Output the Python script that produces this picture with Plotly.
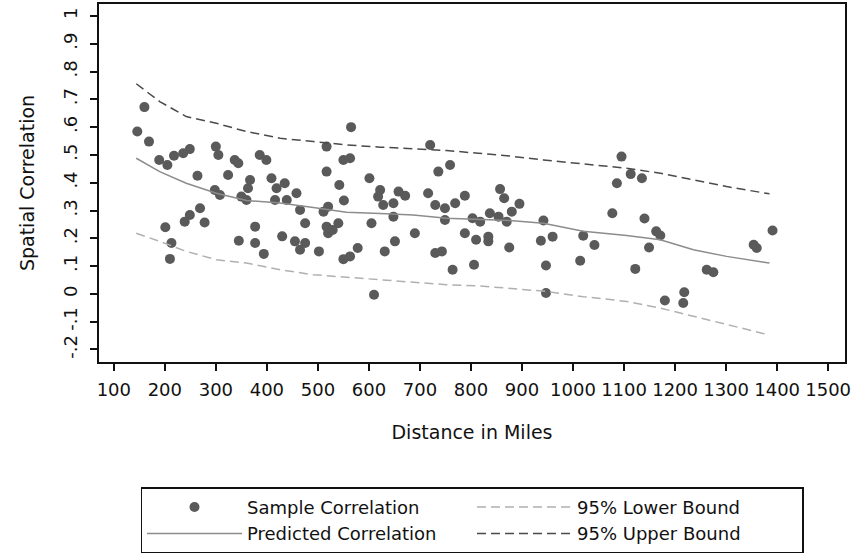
import plotly.graph_objects as go

# Sample correlations (distance in miles, correlation)
sample_dist = [160, 146, 169, 189, 205, 218, 236, 249, 264, 300, 305, 337, 344, 324, 386, 399, 367, 363, 350, 360,
               298, 308, 409, 419, 435, 416, 439, 458, 465, 475, 517, 565, 517, 550, 563, 542, 551, 520, 511, 540,
               517, 520, 529, 601, 622, 618, 628, 648, 658, 671, 648, 605, 690, 651, 631, 578, 563, 550, 502, 465,
               455, 475, 430, 394, 377, 377, 345, 278, 269, 249, 239, 201, 213, 210, 610, 720, 759, 736, 716, 730,
               749, 769, 788, 749, 788, 810, 730, 743, 764, 806, 803, 857, 865, 895, 880, 837, 818, 870, 854, 942,
               834, 834, 875, 937, 960, 947, 1014, 1020, 1042, 947, 1095, 1086, 1113, 1135, 1077, 1140, 1163, 1171,
               1149, 1122, 1180, 1218, 1216, 1262, 1275, 1354, 1360, 1391]
sample_corr = [0.672, 0.584, 0.548, 0.482, 0.464, 0.497, 0.506, 0.521, 0.425, 0.530, 0.500, 0.482, 0.470, 0.428,
               0.500, 0.482, 0.410, 0.380, 0.350, 0.338, 0.374, 0.356, 0.416, 0.380, 0.398, 0.338, 0.338, 0.362,
               0.302, 0.254, 0.530, 0.600, 0.440, 0.482, 0.488, 0.392, 0.336, 0.314, 0.296, 0.254, 0.242, 0.218,
               0.230, 0.416, 0.374, 0.350, 0.320, 0.326, 0.368, 0.353, 0.278, 0.254, 0.218, 0.189, 0.153, 0.165,
               0.135, 0.125, 0.153, 0.159, 0.189, 0.183, 0.207, 0.144, 0.183, 0.242, 0.191, 0.257, 0.308, 0.284,
               0.260, 0.240, 0.183, 0.126, -0.003, 0.536, 0.464, 0.440, 0.362, 0.320, 0.308, 0.326, 0.353, 0.266,
               0.218, 0.195, 0.147, 0.153, 0.087, 0.105, 0.272, 0.377, 0.344, 0.324, 0.296, 0.290, 0.260, 0.260,
               0.278, 0.264, 0.189, 0.206, 0.167, 0.191, 0.206, 0.102, 0.119, 0.209, 0.176, 0.003, 0.494, 0.398,
               0.431, 0.416, 0.290, 0.271, 0.225, 0.210, 0.167, 0.090, -0.024, 0.006, -0.033, 0.087, 0.078, 0.177,
               0.165, 0.228]

# Fitted curves
curve_dist = [144, 190, 242, 301, 360, 426, 491, 556, 622, 687, 752, 814, 876, 942, 1020, 1105, 1171, 1236, 1301, 1385]
predicted = [0.488, 0.440, 0.398, 0.362, 0.336, 0.327, 0.311, 0.294, 0.289, 0.284, 0.272, 0.267, 0.264, 0.254,
             0.225, 0.210, 0.195, 0.159, 0.135, 0.111]
upper = [0.756, 0.692, 0.638, 0.614, 0.584, 0.560, 0.548, 0.536, 0.528, 0.521, 0.516, 0.506, 0.496, 0.482,
         0.468, 0.452, 0.434, 0.410, 0.386, 0.360]
lower = [0.218, 0.189, 0.153, 0.123, 0.111, 0.087, 0.069, 0.060, 0.051, 0.041, 0.033, 0.029, 0.021, 0.010,
         -0.010, -0.027, -0.051, -0.081, -0.111, -0.148]

x_ticks = list(range(100, 1600, 100))
y_tickvals = [-0.2, -0.1, 0, 0.1, 0.2, 0.3, 0.4, 0.5, 0.6, 0.7, 0.8, 0.9, 1.0]
y_ticktext = ["-.2", "-.1", "0", ".1", ".2", ".3", ".4", ".5", ".6", ".7", ".8", ".9", "1"]

FONT = "DejaVu Sans"

fig = go.Figure()
fig.add_trace(go.Scatter(x=sample_dist, y=sample_corr, mode="markers", name="Sample Correlation",
                         marker=dict(color="#5a5a5a", size=10, line=dict(width=0))))
fig.add_trace(go.Scatter(x=curve_dist, y=lower, mode="lines", name="95% Lower Bound",
                         line=dict(color="#b0b0b0", width=1.5, dash="9px,5px")))
fig.add_trace(go.Scatter(x=curve_dist, y=predicted, mode="lines", name="Predicted Correlation",
                         line=dict(color="#8c8c8c", width=1.5)))
fig.add_trace(go.Scatter(x=curve_dist, y=upper, mode="lines", name="95% Upper Bound",
                         line=dict(color="#4a4a4a", width=1.5, dash="9px,5px")))

fig.update_layout(
    width=859, height=556,
    margin=dict(l=99, r=14, t=4, b=194, autoexpand=False),
    paper_bgcolor="white", plot_bgcolor="white",
    font=dict(family=FONT, size=19, color="#111"),
    showlegend=True,
    legend=dict(orientation="h", x=0.5, xanchor="center", y=-0.35, yanchor="top",
                entrywidth=220, entrywidthmode="pixels", itemwidth=95,
                bordercolor="#111", borderwidth=1.5, bgcolor="white",
                font=dict(family=FONT, size=18, color="#111")),
)
fig.update_xaxes(range=[71, 1533], tickvals=x_ticks, tickangle=0, automargin=False,
                 showline=True, linecolor="#111", linewidth=1.5, mirror=True,
                 ticks="outside", ticklen=7, tickcolor="#111", tickwidth=1.5,
                 showgrid=False, zeroline=False, ticklabelstandoff=4,
                 tickfont=dict(family=FONT, size=18),
                 title=dict(text="Distance in Miles", font=dict(family=FONT, size=19), standoff=26))
fig.update_yaxes(range=[-0.245, 1.043], tickvals=y_tickvals, ticktext=y_ticktext, tickangle=-90,
                 automargin=False,
                 showline=True, linecolor="#111", linewidth=1.5, mirror=True,
                 ticks="outside", ticklen=7, tickcolor="#111", tickwidth=1.5,
                 showgrid=False, zeroline=False, ticklabelstandoff=6,
                 tickfont=dict(family=FONT, size=18),
                 title=dict(text="Spatial Correlation", font=dict(family=FONT, size=19), standoff=20))

fig.write_html("out.html", config={"displayModeBar": False},
               post_script="document.body.style.margin='0';")
